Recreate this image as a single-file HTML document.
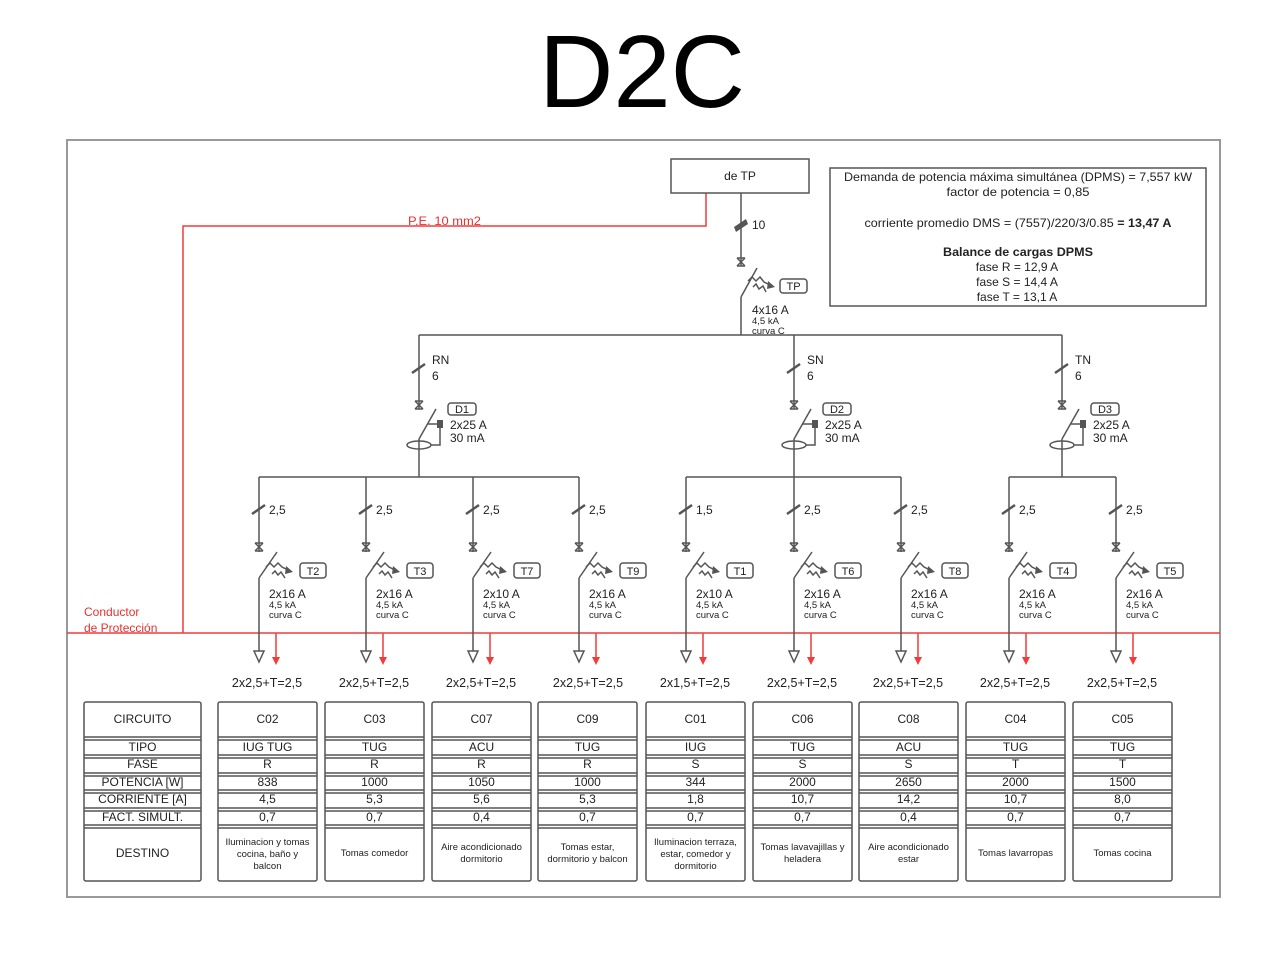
<!DOCTYPE html>
<html><head><meta charset="utf-8"><style>
html,body{margin:0;padding:0;background:#fff;}
svg{display:block;}
text{font-family:"Liberation Sans",Arial,sans-serif;fill:#222;}
</style></head><body>
<svg width="1280" height="960" viewBox="0 0 1280 960" xmlns="http://www.w3.org/2000/svg">
<defs>
<g id="br">
 <g stroke="#555" stroke-width="1.5" fill="none">
  <path d="M0 477V552M0 578V651"/>
  <path d="M-4 543H4M-4 551H4M-4 543L4 551M4 543L-4 551"/>
  <path d="M0 578L18 552"/>
  <polyline points="7,567 11,563 15,567 19,563 23,567 29,570"/>
  <polyline points="13,574 16,571 19,575 22,572 26,578"/>
  <rect x="41" y="563" width="26" height="15" rx="3"/>
  <polygon points="-5,651 5,651 0,662" fill="#fff"/>
 </g>
 <path d="M-7 514L6 505" stroke="#555" stroke-width="2.5"/>
 <polygon points="27,566 34,572 26,574" fill="#555"/>
 <line x1="17" y1="633" x2="17" y2="658" stroke="#f03c3c" stroke-width="1.5"/>
 <polygon points="13,657 21,657 17,665" fill="#f03c3c"/>
</g>
<g id="dd">
 <g stroke="#555" stroke-width="1.5" fill="none">
  <path d="M0 335V409M0 439V477"/>
  <path d="M-4 401H4M-4 409H4M-4 401L4 409M4 401L-4 409"/>
  <path d="M0 439L17 409"/>
  <path d="M8.5 424H18M21 428V445H12"/>
  <ellipse cx="0" cy="445" rx="12" ry="4"/>
  <rect x="29" y="403" width="28" height="12" rx="3"/>
 </g>
 <path d="M-7 373L6 364" stroke="#555" stroke-width="2.5"/>
 <rect x="18" y="420" width="6" height="8" fill="#555"/>
</g>
<g id="col" stroke="#555" stroke-width="1.5" fill="none">
 <rect x="0" y="702" width="99" height="179" rx="2"/>
 <path d="M0 737H99M0 740H99M0 755H99M0 758H99M0 773H99M0 776H99M0 790H99M0 793H99M0 808H99M0 811H99M0 825H99M0 828H99"/>
</g>
</defs>

<!-- Title -->
<text x="642" y="107" font-size="103" text-anchor="middle" style="fill:#000">D2C</text>

<!-- Frame -->
<rect x="67" y="140" width="1153" height="757" fill="none" stroke="#999" stroke-width="2"/>

<!-- Red protection conductor -->
<g stroke="#f03c3c" stroke-width="1.5" fill="none">
 <path d="M706 193V226H183V633"/>
 <path d="M67 633H1220"/>
</g>
<text x="408" y="225" font-size="11.5" style="fill:#e83030" textLength="73" lengthAdjust="spacingAndGlyphs">P.E. 10 mm2</text>
<text x="84" y="616" font-size="12" style="fill:#e83030">Conductor</text>
<text x="84" y="632" font-size="12" style="fill:#e83030">de Protección</text>

<!-- de TP box -->
<rect x="671" y="159" width="138" height="34" fill="#fff" stroke="#555" stroke-width="1.5"/>
<text x="740" y="180" font-size="12" text-anchor="middle">de TP</text>

<!-- DPMS box -->
<rect x="830" y="168" width="376" height="138" fill="none" stroke="#555" stroke-width="1.5"/>
<g font-size="12" text-anchor="middle">
 <text x="1018" y="181" textLength="348" lengthAdjust="spacingAndGlyphs">Demanda de potencia máxima simultánea (DPMS) = 7,557 kW</text>
 <text x="1018" y="196" textLength="143" lengthAdjust="spacingAndGlyphs">factor de potencia =  0,85</text>
 <text x="1018" y="227" textLength="307" lengthAdjust="spacingAndGlyphs">corriente promedio DMS =  (7557)/220/3/0.85 <tspan font-weight="bold">= 13,47 A</tspan></text>
 <text x="1018" y="256" font-weight="bold" textLength="150" lengthAdjust="spacingAndGlyphs">Balance de cargas DPMS</text>
 <text x="1017" y="271">fase R = 12,9 A</text>
 <text x="1017" y="286">fase S = 14,4 A</text>
 <text x="1017" y="301">fase T = 13,1 A</text>
</g>

<!-- TP breaker -->
<g stroke="#555" stroke-width="1.5" fill="none">
 <path d="M741 193V266M741 297V335"/>
 <path d="M737 258H745M737 266H745M737 258L745 266M745 258L737 266"/>
 <path d="M741 297L757 268"/>
 <polyline points="748,281 752,277 756,281 760,277 764,282 770,285"/>
 <polyline points="753,287 756,284 759,289 763,286 766,292"/>
 <rect x="780" y="279" width="27" height="14" rx="3"/>
 <path d="M419 335H1062"/>
 <path d="M259 477H579M686 477H901M1009 477H1116"/>
</g>
<polygon points="734,227 746,219 748,224 736,232" fill="#555"/>
<polygon points="768,281 775,287 767,289" fill="#555"/>
<text x="752" y="229" font-size="12">10</text>
<text x="793.5" y="290" font-size="11" text-anchor="middle">TP</text>
<text x="752" y="314" font-size="12">4x16 A</text>
<text x="752" y="324" font-size="9.5">4,5 kA</text>
<text x="752" y="334" font-size="9.5">curva C</text>

<!-- Differential breakers -->
<use href="#dd" x="419"/>
<use href="#dd" x="794"/>
<use href="#dd" x="1062"/>
<g font-size="12">
 <text x="432" y="364">RN</text><text x="432" y="380">6</text>
 <text x="807" y="364">SN</text><text x="807" y="380">6</text>
 <text x="1075" y="364">TN</text><text x="1075" y="380">6</text>
 <text x="450" y="429">2x25 A</text><text x="450" y="442">30 mA</text>
 <text x="825" y="429">2x25 A</text><text x="825" y="442">30 mA</text>
 <text x="1093" y="429">2x25 A</text><text x="1093" y="442">30 mA</text>
</g>
<g font-size="11" text-anchor="middle">
 <text x="462" y="413">D1</text>
 <text x="837" y="413">D2</text>
 <text x="1105" y="413">D3</text>
</g>

<!-- Branch breakers -->
<use href="#br" x="259"/>
<use href="#br" x="366"/>
<use href="#br" x="473"/>
<use href="#br" x="579"/>
<use href="#br" x="686"/>
<use href="#br" x="794"/>
<use href="#br" x="901"/>
<use href="#br" x="1009"/>
<use href="#br" x="1116"/>

<g font-size="12">
 <text x="269" y="514">2,5</text>
 <text x="376" y="514">2,5</text>
 <text x="483" y="514">2,5</text>
 <text x="589" y="514">2,5</text>
 <text x="696" y="514">1,5</text>
 <text x="804" y="514">2,5</text>
 <text x="911" y="514">2,5</text>
 <text x="1019" y="514">2,5</text>
 <text x="1126" y="514">2,5</text>

 <text x="269" y="598">2x16 A</text>
 <text x="376" y="598">2x16 A</text>
 <text x="483" y="598">2x10 A</text>
 <text x="589" y="598">2x16 A</text>
 <text x="696" y="598">2x10 A</text>
 <text x="804" y="598">2x16 A</text>
 <text x="911" y="598">2x16 A</text>
 <text x="1019" y="598">2x16 A</text>
 <text x="1126" y="598">2x16 A</text>
</g>
<g font-size="9.5">
 <text x="269" y="608">4,5 kA</text><text x="269" y="618">curva C</text>
 <text x="376" y="608">4,5 kA</text><text x="376" y="618">curva C</text>
 <text x="483" y="608">4,5 kA</text><text x="483" y="618">curva C</text>
 <text x="589" y="608">4,5 kA</text><text x="589" y="618">curva C</text>
 <text x="696" y="608">4,5 kA</text><text x="696" y="618">curva C</text>
 <text x="804" y="608">4,5 kA</text><text x="804" y="618">curva C</text>
 <text x="911" y="608">4,5 kA</text><text x="911" y="618">curva C</text>
 <text x="1019" y="608">4,5 kA</text><text x="1019" y="618">curva C</text>
 <text x="1126" y="608">4,5 kA</text><text x="1126" y="618">curva C</text>
</g>
<g font-size="11" text-anchor="middle">
 <text x="313" y="575">T2</text>
 <text x="420" y="575">T3</text>
 <text x="527" y="575">T7</text>
 <text x="633" y="575">T9</text>
 <text x="740" y="575">T1</text>
 <text x="848" y="575">T6</text>
 <text x="955" y="575">T8</text>
 <text x="1063" y="575">T4</text>
 <text x="1170" y="575">T5</text>
</g>
<g font-size="12.5" text-anchor="middle">
 <text x="267" y="687">2x2,5+T=2,5</text>
 <text x="374" y="687">2x2,5+T=2,5</text>
 <text x="481" y="687">2x2,5+T=2,5</text>
 <text x="588" y="687">2x2,5+T=2,5</text>
 <text x="695" y="687">2x1,5+T=2,5</text>
 <text x="802" y="687">2x2,5+T=2,5</text>
 <text x="908" y="687">2x2,5+T=2,5</text>
 <text x="1015" y="687">2x2,5+T=2,5</text>
 <text x="1122" y="687">2x2,5+T=2,5</text>
</g>

<!-- Table: label column -->
<g stroke="#555" stroke-width="1.5" fill="none">
 <rect x="84" y="702" width="117" height="179" rx="2"/>
 <path d="M84 737H201M84 740H201M84 755H201M84 758H201M84 773H201M84 776H201M84 790H201M84 793H201M84 808H201M84 811H201M84 825H201M84 828H201"/>
</g>
<g font-size="12" text-anchor="middle">
 <text x="142.5" y="723">CIRCUITO</text>
 <text x="142.5" y="751">TIPO</text>
 <text x="142.5" y="768">FASE</text>
 <text x="142.5" y="786">POTENCIA [W]</text>
 <text x="142.5" y="803">CORRIENTE [A]</text>
 <text x="142.5" y="821">FACT. SIMULT.</text>
 <text x="142.5" y="857">DESTINO</text>
</g>

<!-- Table: data columns -->
<use href="#col" x="218"/>
<use href="#col" x="325"/>
<use href="#col" x="432"/>
<use href="#col" x="538"/>
<use href="#col" x="646"/>
<use href="#col" x="753"/>
<use href="#col" x="859"/>
<use href="#col" x="966"/>
<use href="#col" x="1073"/>

<g font-size="12" text-anchor="middle">
 <text x="267.5" y="723">C02</text><text x="267.5" y="751">IUG TUG</text><text x="267.5" y="768">R</text><text x="267.5" y="786">838</text><text x="267.5" y="803">4,5</text><text x="267.5" y="821">0,7</text>
 <text x="374.5" y="723">C03</text><text x="374.5" y="751">TUG</text><text x="374.5" y="768">R</text><text x="374.5" y="786">1000</text><text x="374.5" y="803">5,3</text><text x="374.5" y="821">0,7</text>
 <text x="481.5" y="723">C07</text><text x="481.5" y="751">ACU</text><text x="481.5" y="768">R</text><text x="481.5" y="786">1050</text><text x="481.5" y="803">5,6</text><text x="481.5" y="821">0,4</text>
 <text x="587.5" y="723">C09</text><text x="587.5" y="751">TUG</text><text x="587.5" y="768">R</text><text x="587.5" y="786">1000</text><text x="587.5" y="803">5,3</text><text x="587.5" y="821">0,7</text>
 <text x="695.5" y="723">C01</text><text x="695.5" y="751">IUG</text><text x="695.5" y="768">S</text><text x="695.5" y="786">344</text><text x="695.5" y="803">1,8</text><text x="695.5" y="821">0,7</text>
 <text x="802.5" y="723">C06</text><text x="802.5" y="751">TUG</text><text x="802.5" y="768">S</text><text x="802.5" y="786">2000</text><text x="802.5" y="803">10,7</text><text x="802.5" y="821">0,7</text>
 <text x="908.5" y="723">C08</text><text x="908.5" y="751">ACU</text><text x="908.5" y="768">S</text><text x="908.5" y="786">2650</text><text x="908.5" y="803">14,2</text><text x="908.5" y="821">0,4</text>
 <text x="1015.5" y="723">C04</text><text x="1015.5" y="751">TUG</text><text x="1015.5" y="768">T</text><text x="1015.5" y="786">2000</text><text x="1015.5" y="803">10,7</text><text x="1015.5" y="821">0,7</text>
 <text x="1122.5" y="723">C05</text><text x="1122.5" y="751">TUG</text><text x="1122.5" y="768">T</text><text x="1122.5" y="786">1500</text><text x="1122.5" y="803">8,0</text><text x="1122.5" y="821">0,7</text>
</g>
<g font-size="9.5" text-anchor="middle">
 <text x="267.5" y="845">Iluminacion y tomas</text><text x="267.5" y="857">cocina, baño y</text><text x="267.5" y="869">balcon</text>
 <text x="374.5" y="856">Tomas  comedor</text>
 <text x="481.5" y="850">Aire acondicionado</text><text x="481.5" y="862">dormitorio</text>
 <text x="587.5" y="850">Tomas estar,</text><text x="587.5" y="862">dormitorio y balcon</text>
 <text x="695.5" y="845">Iluminacion terraza,</text><text x="695.5" y="857">estar, comedor y</text><text x="695.5" y="869">dormitorio</text>
 <text x="802.5" y="850">Tomas lavavajillas y</text><text x="802.5" y="862">heladera</text>
 <text x="908.5" y="850">Aire acondicionado</text><text x="908.5" y="862">estar</text>
 <text x="1015.5" y="856">Tomas lavarropas</text>
 <text x="1122.5" y="856">Tomas cocina</text>
</g>
</svg>
</body></html>
